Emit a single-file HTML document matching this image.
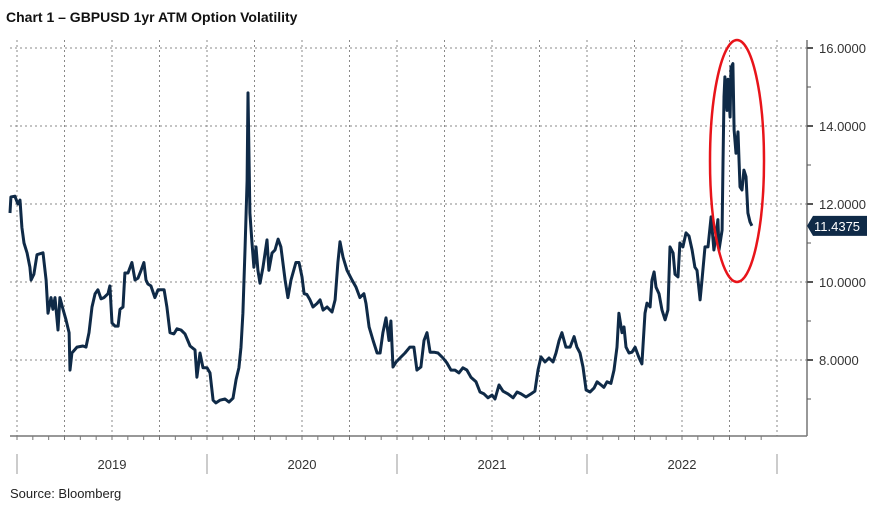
<!DOCTYPE html>
<html><head><meta charset="utf-8"><style>
body{margin:0;background:#fff;width:879px;height:509px;overflow:hidden;font-family:"Liberation Sans",sans-serif}
svg{position:absolute;left:0;top:0}
</style></head><body>
<svg id="c" width="879" height="509">
<text x="6" y="22" font-size="14" font-weight="bold" fill="#111">Chart 1 – GBPUSD 1yr ATM Option Volatility</text>
<text x="10" y="498" font-size="13" fill="#222">Source: Bloomberg</text>
</svg>
<script>
const yearOffsets=[-0.037,-0.032,-0.011,0.005,0.016,0.026,0.037,0.053,0.068,0.074,0.089,0.105,0.137,0.153,0.163,0.179,0.189,0.2,0.216,0.226,0.242,0.258,0.274,0.279,0.289,0.316,0.347,0.363,0.379,0.395,0.411,0.426,0.442,0.458,0.479,0.489,0.5,0.516,0.532,0.542,0.558,0.568,0.584,0.605,0.621,0.637,0.653,0.668,0.679,0.689,0.705,0.726,0.742,0.763,0.774,0.789,0.805,0.826,0.842,0.863,0.884,0.911,0.937,0.947,0.963,0.979,1.0,1.016,1.032,1.047,1.068,1.095,1.116,1.137,1.153,1.168,1.179,1.189,1.2,1.211,1.216,1.226,1.237,1.247,1.258,1.268,1.279,1.295,1.316,1.326,1.342,1.358,1.374,1.389,1.411,1.426,1.442,1.468,1.484,1.5,1.511,1.526,1.542,1.558,1.579,1.595,1.611,1.632,1.658,1.674,1.689,1.7,1.716,1.737,1.763,1.784,1.805,1.826,1.837,1.853,1.874,1.895,1.911,1.926,1.942,1.958,1.968,1.979,1.995,2.016,2.042,2.068,2.089,2.105,2.126,2.142,2.158,2.174,2.195,2.216,2.242,2.263,2.284,2.305,2.326,2.347,2.368,2.389,2.416,2.437,2.458,2.479,2.5,2.516,2.537,2.558,2.584,2.611,2.632,2.653,2.679,2.705,2.726,2.742,2.758,2.779,2.8,2.821,2.837,2.853,2.868,2.889,2.911,2.932,2.947,2.963,2.979,2.995,3.016,3.037,3.053,3.074,3.089,3.105,3.126,3.142,3.158,3.168,3.184,3.195,3.205,3.221,3.237,3.253,3.274,3.289,3.305,3.316,3.332,3.342,3.353,3.363,3.379,3.395,3.411,3.426,3.437,3.453,3.463,3.479,3.489,3.505,3.521,3.537,3.553,3.568,3.579,3.595,3.605,3.621,3.637,3.653,3.668,3.679,3.689,3.695,3.711,3.716,3.721,3.726,3.737,3.742,3.753,3.758,3.768,3.774,3.784,3.795,3.805,3.816,3.826,3.837,3.847,3.858,3.868];
const vols=[11.77,12.18,12.2,12.0,12.1,11.4,11.0,10.74,10.38,10.05,10.2,10.7,10.75,10.05,9.2,9.6,9.3,9.6,8.77,9.6,9.3,9.03,8.7,7.74,8.18,8.33,8.36,8.33,8.7,9.36,9.7,9.8,9.57,9.6,9.7,9.9,8.95,8.87,8.87,9.3,9.36,10.23,10.23,10.5,10.05,10.1,10.3,10.5,10.05,9.95,9.9,9.6,9.8,9.8,9.8,9.36,8.7,8.67,8.8,8.77,8.67,8.36,8.26,7.56,8.18,7.8,7.8,7.67,6.97,6.9,6.97,7.0,6.92,7.02,7.5,7.8,8.33,9.2,10.82,12.6,14.85,11.77,11.0,10.38,10.9,10.3,9.97,10.38,11.08,10.3,10.74,10.82,11.1,10.9,10.05,9.6,10.05,10.5,10.5,10.13,9.7,9.68,9.54,9.36,9.45,9.54,9.28,9.36,9.23,9.54,10.5,11.03,10.64,10.3,10.05,9.87,9.6,9.7,9.45,8.85,8.5,8.18,8.18,8.7,9.08,8.5,9.0,7.82,7.95,8.05,8.18,8.33,8.33,7.74,7.82,8.5,8.7,8.2,8.2,8.18,8.05,7.92,7.74,7.74,7.67,7.8,7.74,7.56,7.44,7.18,7.13,7.03,7.1,7.0,7.36,7.2,7.13,7.03,7.18,7.13,7.05,7.13,7.2,7.74,8.08,7.95,8.05,7.95,8.18,8.5,8.7,8.33,8.33,8.6,8.33,8.18,7.82,7.23,7.18,7.28,7.44,7.36,7.3,7.44,7.4,7.74,8.33,9.2,8.7,8.85,8.33,8.18,8.2,8.33,8.05,7.9,9.2,9.46,9.36,10.05,10.26,9.87,9.7,9.28,9.03,9.28,10.9,10.74,10.2,10.13,11.0,10.9,11.26,11.18,10.82,10.38,10.3,9.54,10.05,10.9,10.9,11.67,10.82,11.18,11.6,10.82,11.33,13.05,14.74,15.26,14.4,15.2,14.23,15.5,15.6,13.9,13.3,13.85,12.44,12.36,12.87,12.7,11.77,11.54,11.44];
const yTicks=[8,10,12,14,16];
const yTickLabels=["8.0000","10.0000","12.0000","14.0000","16.0000"];
const yearLabels=["2019","2020","2021","2022"];
const lastLabel="11.4375";

const NS="http://www.w3.org/2000/svg";
const svg=document.getElementById('c');
const L=10,R=807,T=40,B=436;
const x0=17,pxPerYear=190;
function xScale(t){return x0+t*pxPerYear;}
function yScale(v){return 48+(16-v)*39;}
function mk(tag,attrs,parent){const e=document.createElementNS(NS,tag);for(const k in attrs)e.setAttribute(k,attrs[k]);(parent||svg).appendChild(e);return e;}

const grid=mk('g',{});


for(let q=0;q<=16;q++){const x=xScale(q/4);mk('line',{x1:x,x2:x,y1:T,y2:B,stroke:'#888','stroke-width':1,'stroke-dasharray':'2,3'},grid);}
yTicks.forEach(v=>{const y=yScale(v);mk('line',{x1:L,x2:R,y1:y,y2:y,stroke:'#888','stroke-width':1,'stroke-dasharray':'2,3'},grid);});

const ax=mk('g',{});


mk('line',{x1:R,x2:R,y1:T,y2:B,stroke:'#777','stroke-width':1.5},ax);
mk('line',{x1:L,x2:R,y1:B,y2:B,stroke:'#777','stroke-width':1.5},ax);
for(let m=-1;m<=47;m++){const x=xScale(m/12);if(x<L)continue;mk('line',{x1:x,x2:x,y1:B,y2:B+4,stroke:'#777'},ax);}
for(let v=7;v<=16;v++){const y=yScale(v);mk('line',{x1:R,x2:R+(v%2?4:6),y1:y,y2:y,stroke:'#555','stroke-width':v%2?1:2},ax);}
yTicks.forEach((v,i)=>{const t=mk('text',{x:R+12,y:yScale(v)+5,'font-size':13,fill:'#333'});t.textContent=yTickLabels[i];

});
for(let i=0;i<=4;i++){const x=xScale(i);mk('line',{x1:x,x2:x,y1:454,y2:474,stroke:'#aaa','stroke-width':1.2},ax);}
yearLabels.forEach((lab,i)=>{const t=mk('text',{x:xScale(i+0.5),y:469,'font-size':13,fill:'#333','text-anchor':'middle'});t.textContent=lab;

});

let d='';
vols.forEach((v,i)=>{d+=(i?'L':'M')+xScale(yearOffsets[i]).toFixed(1)+','+yScale(v).toFixed(1);});
const line=mk('path',{d:d,fill:'none',stroke:'#0f2a47','stroke-width':3,'stroke-linejoin':'round'});



const el=mk('ellipse',{cx:737,cy:161,rx:27,ry:121,fill:'none',stroke:'#e8141a','stroke-width':2.5});



const lv=vols[vols.length-1],ly=yScale(lv);
const tag=mk('g',{});


mk('path',{d:`M${R},${ly} L${R+6},${ly-10} L867,${ly-10} L867,${ly+10} L${R+6},${ly+10} Z`,fill:'#0f2a47'},tag);
const lt=mk('text',{x:814,y:ly+5,'font-size':13,fill:'#fff'},tag);lt.textContent=lastLabel;
</script>
</body></html>
